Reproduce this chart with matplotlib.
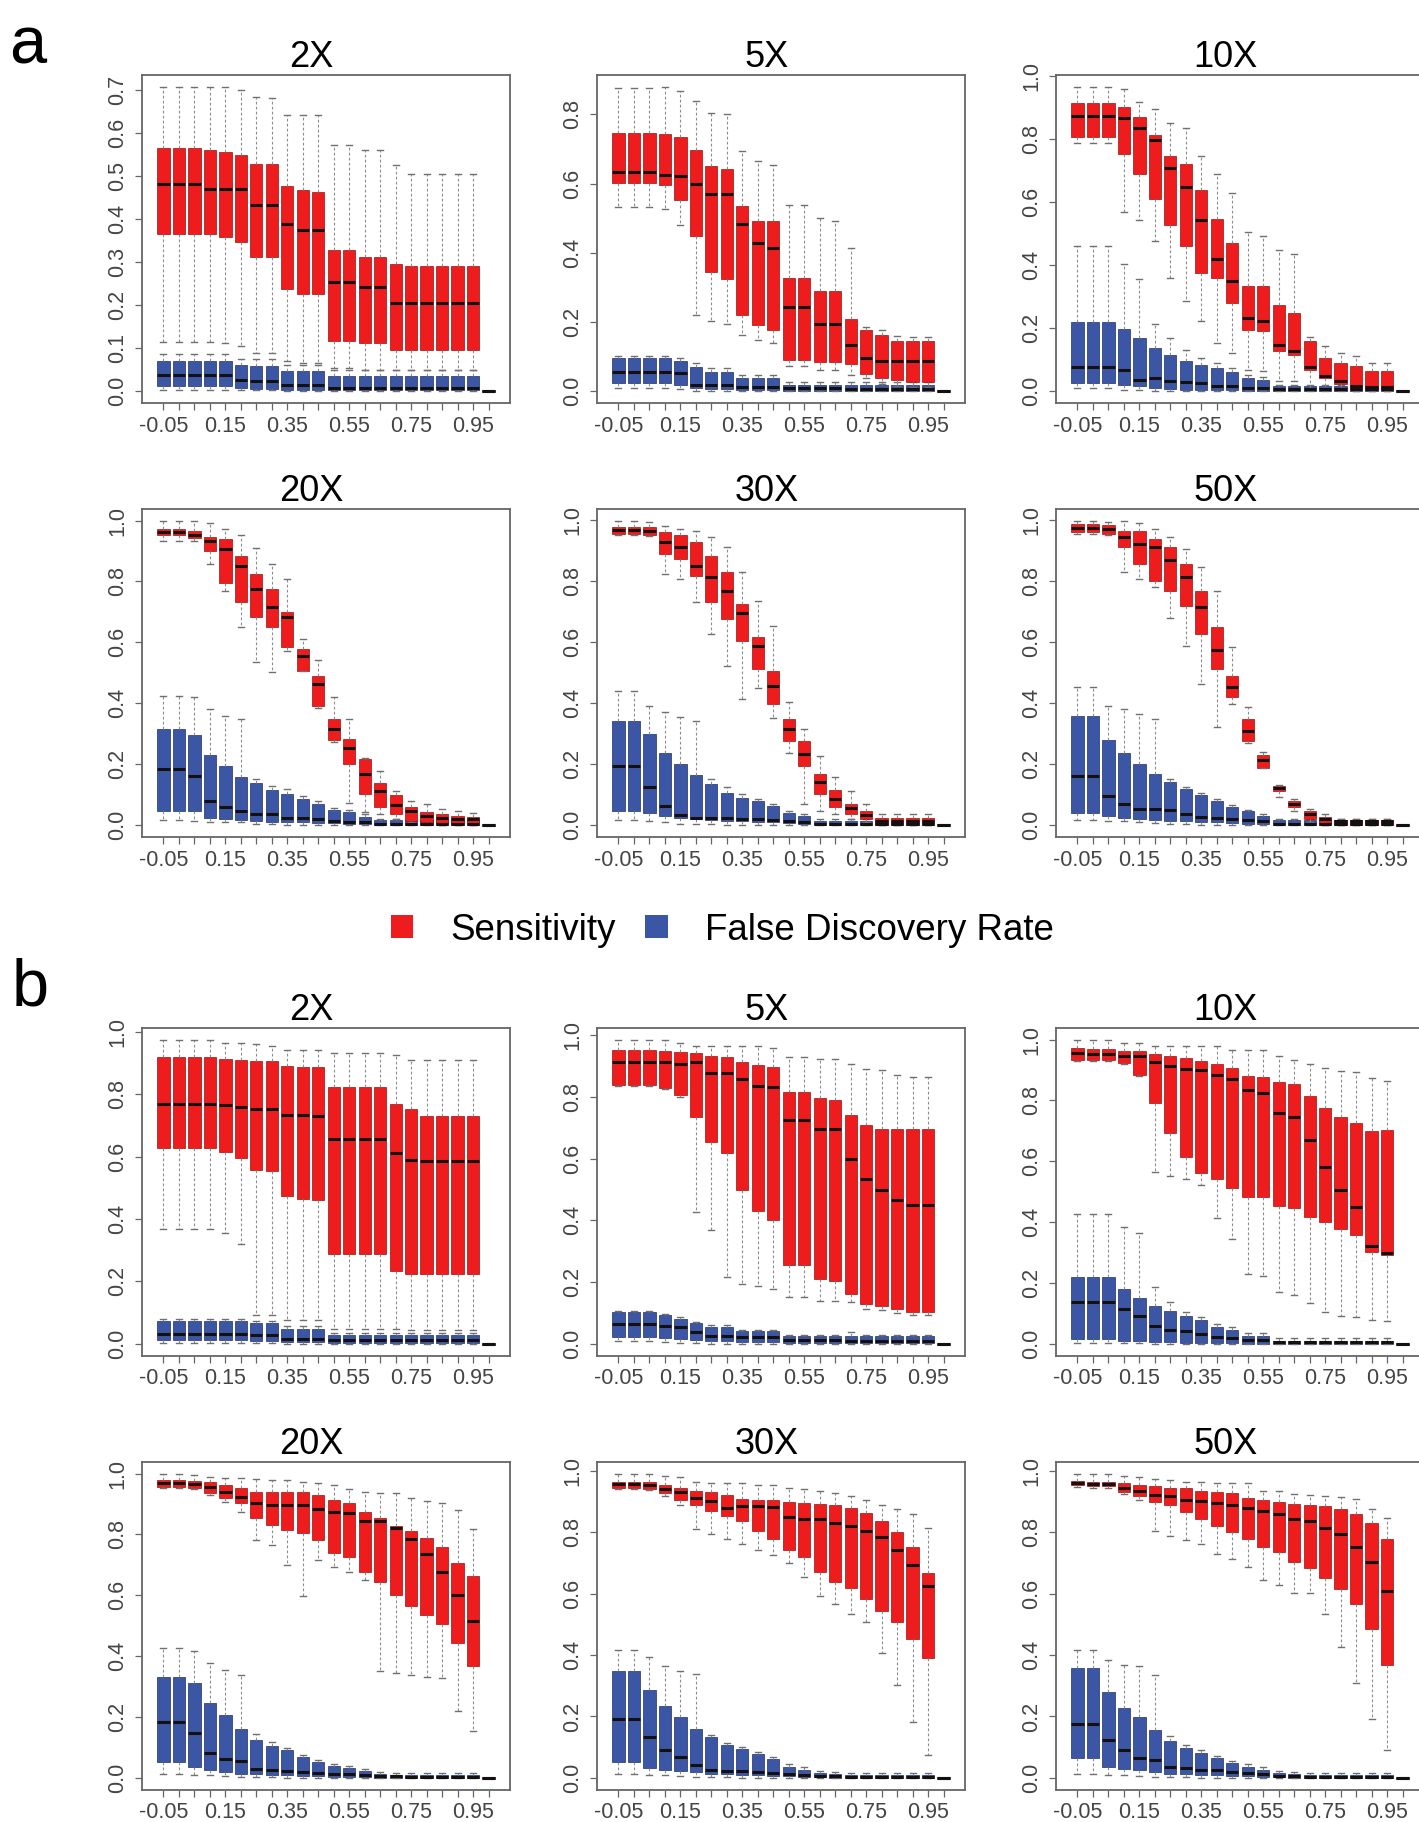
import numpy as np
import matplotlib
matplotlib.use("Agg")
import matplotlib.pyplot as plt
from matplotlib.patches import Patch
from matplotlib.ticker import MultipleLocator, FormatStrFormatter

plt.rcParams['font.family'] = ['Liberation Sans', 'DejaVu Sans']

thresholds = [-0.05, 0.00, 0.05, 0.10, 0.15, 0.20, 0.25, 0.30, 0.35, 0.40, 0.45,
              0.50, 0.55, 0.60, 0.65, 0.70, 0.75, 0.80, 0.85, 0.90, 0.95, 1.00]

# ---- panel a, 2X ----
a2x_sens_hi = [0.706, 0.706, 0.706, 0.706, 0.706, 0.700, 0.684, 0.680, 0.641, 0.641, 0.641, 0.571, 0.571, 0.560, 0.560, 0.525, 0.505, 0.505, 0.505, 0.505, 0.505, 0]
a2x_sens_q3 = [0.564, 0.564, 0.564, 0.560, 0.556, 0.548, 0.528, 0.528, 0.476, 0.468, 0.462, 0.327, 0.327, 0.310, 0.310, 0.295, 0.290, 0.290, 0.290, 0.290, 0.290, 0]
a2x_sens_med = [0.482, 0.482, 0.482, 0.470, 0.470, 0.470, 0.433, 0.433, 0.387, 0.374, 0.374, 0.253, 0.253, 0.242, 0.242, 0.205, 0.205, 0.205, 0.205, 0.205, 0.205, 0]
a2x_sens_q1 = [0.365, 0.365, 0.365, 0.365, 0.357, 0.345, 0.312, 0.312, 0.236, 0.226, 0.226, 0.115, 0.115, 0.111, 0.111, 0.096, 0.094, 0.094, 0.094, 0.094, 0.094, 0]
a2x_sens_lo = [0.114, 0.114, 0.114, 0.114, 0.111, 0.104, 0.088, 0.088, 0.069, 0.065, 0.065, 0.053, 0.053, 0.049, 0.049, 0.049, 0.049, 0.049, 0.049, 0.049, 0.049, 0]
a2x_fdr_hi = [0.085, 0.085, 0.085, 0.085, 0.085, 0.075, 0.075, 0.075, 0.060, 0.060, 0.060, 0.048, 0.048, 0.048, 0.048, 0.048, 0.048, 0.048, 0.048, 0.048, 0.048, 0]
a2x_fdr_q3 = [0.070, 0.070, 0.070, 0.070, 0.070, 0.061, 0.057, 0.057, 0.045, 0.045, 0.045, 0.034, 0.034, 0.034, 0.034, 0.034, 0.034, 0.034, 0.034, 0.034, 0.034, 0]
a2x_fdr_med = [0.037, 0.037, 0.037, 0.037, 0.037, 0.026, 0.022, 0.022, 0.014, 0.014, 0.014, 0.006, 0.006, 0.006, 0.006, 0.006, 0.006, 0.006, 0.006, 0.006, 0.006, 0]
a2x_fdr_q1 = [0.012, 0.012, 0.012, 0.012, 0.012, 0.006, 0.005, 0.005, 0.002, 0.002, 0.002, 0.001, 0.001, 0.001, 0.001, 0.001, 0.001, 0.001, 0.001, 0.001, 0.001, 0]
a2x_fdr_lo = [0.003, 0.003, 0.003, 0.003, 0.003, 0.001, 0.001, 0.001, 0, 0, 0, 0, 0, 0, 0, 0, 0, 0, 0, 0, 0, 0]

# ---- panel a, 5X ----
a5x_sens_hi = [0.877, 0.877, 0.877, 0.879, 0.868, 0.839, 0.805, 0.800, 0.694, 0.665, 0.653, 0.539, 0.539, 0.500, 0.493, 0.414, 0.186, 0.175, 0.160, 0.155, 0.155, 0]
a5x_sens_q3 = [0.747, 0.747, 0.747, 0.742, 0.734, 0.696, 0.652, 0.643, 0.534, 0.493, 0.493, 0.327, 0.327, 0.290, 0.290, 0.209, 0.177, 0.162, 0.143, 0.143, 0.143, 0]
a5x_sens_med = [0.634, 0.634, 0.634, 0.626, 0.621, 0.599, 0.570, 0.570, 0.483, 0.428, 0.414, 0.244, 0.244, 0.193, 0.193, 0.133, 0.095, 0.085, 0.085, 0.085, 0.085, 0]
a5x_sens_q1 = [0.602, 0.602, 0.602, 0.597, 0.551, 0.447, 0.344, 0.325, 0.220, 0.191, 0.177, 0.090, 0.090, 0.083, 0.083, 0.077, 0.048, 0.037, 0.032, 0.027, 0.027, 0]
a5x_sens_lo = [0.531, 0.531, 0.531, 0.525, 0.481, 0.220, 0.203, 0.193, 0.162, 0.148, 0.138, 0.071, 0.071, 0.061, 0.061, 0.046, 0.037, 0.020, 0.015, 0.010, 0.010, 0]
a5x_fdr_hi = [0.100, 0.100, 0.100, 0.100, 0.095, 0.080, 0.065, 0.065, 0.045, 0.045, 0.045, 0.025, 0.025, 0.025, 0.025, 0.025, 0.025, 0.025, 0.025, 0.025, 0.025, 0]
a5x_fdr_q3 = [0.095, 0.095, 0.095, 0.095, 0.085, 0.070, 0.056, 0.056, 0.037, 0.037, 0.037, 0.017, 0.017, 0.017, 0.017, 0.017, 0.017, 0.017, 0.017, 0.017, 0.017, 0]
a5x_fdr_med = [0.056, 0.056, 0.056, 0.056, 0.051, 0.017, 0.017, 0.017, 0.010, 0.010, 0.010, 0.008, 0.008, 0.008, 0.008, 0.006, 0.006, 0.006, 0.006, 0.006, 0.006, 0]
a5x_fdr_q1 = [0.022, 0.022, 0.022, 0.022, 0.017, 0.008, 0.006, 0.006, 0.003, 0.003, 0.003, 0.001, 0.001, 0.001, 0.001, 0, 0, 0, 0, 0, 0, 0]
a5x_fdr_lo = [0.008, 0.008, 0.008, 0.008, 0.005, 0, 0, 0, 0, 0, 0, 0, 0, 0, 0, 0, 0, 0, 0, 0, 0, 0]

# ---- panel a, 10X ----
a10x_sens_hi = [0.966, 0.966, 0.966, 0.960, 0.920, 0.896, 0.851, 0.835, 0.746, 0.691, 0.629, 0.504, 0.494, 0.448, 0.435, 0.170, 0.142, 0.120, 0.110, 0.088, 0.088, 0]
a10x_sens_q3 = [0.915, 0.915, 0.915, 0.904, 0.872, 0.813, 0.746, 0.721, 0.638, 0.547, 0.469, 0.334, 0.334, 0.273, 0.248, 0.160, 0.104, 0.088, 0.078, 0.062, 0.062, 0]
a10x_sens_med = [0.874, 0.874, 0.874, 0.867, 0.835, 0.797, 0.710, 0.648, 0.542, 0.419, 0.350, 0.232, 0.222, 0.147, 0.128, 0.075, 0.046, 0.030, 0.014, 0.011, 0.011, 0]
a10x_sens_q1 = [0.808, 0.808, 0.808, 0.753, 0.689, 0.609, 0.526, 0.462, 0.376, 0.360, 0.280, 0.195, 0.190, 0.128, 0.113, 0.067, 0.040, 0.021, 0.009, 0.003, 0.003, 0]
a10x_sens_lo = [0.787, 0.787, 0.787, 0.568, 0.542, 0.478, 0.360, 0.286, 0.222, 0.152, 0.120, 0.067, 0.062, 0.030, 0.030, 0.010, 0.010, 0.005, 0, 0, 0, 0]
a10x_fdr_hi = [0.462, 0.462, 0.462, 0.403, 0.355, 0.213, 0.168, 0.131, 0.104, 0.088, 0.072, 0.050, 0.045, 0.020, 0.020, 0.020, 0.020, 0.020, 0.020, 0.020, 0.020, 0]
a10x_fdr_q3 = [0.220, 0.220, 0.220, 0.198, 0.168, 0.136, 0.113, 0.096, 0.083, 0.072, 0.060, 0.040, 0.035, 0.014, 0.014, 0.014, 0.014, 0.014, 0.014, 0.014, 0.014, 0]
a10x_fdr_med = [0.075, 0.075, 0.075, 0.067, 0.035, 0.040, 0.030, 0.027, 0.025, 0.017, 0.017, 0.009, 0.009, 0.006, 0.006, 0.006, 0.006, 0.006, 0.006, 0.006, 0.006, 0]
a10x_fdr_q1 = [0.025, 0.025, 0.025, 0.019, 0.017, 0.009, 0.006, 0.004, 0.003, 0.002, 0.002, 0.001, 0.001, 0, 0, 0, 0, 0, 0, 0, 0, 0]
a10x_fdr_lo = [0.009, 0.009, 0.009, 0.003, 0.003, 0, 0, 0, 0, 0, 0, 0, 0, 0, 0, 0, 0, 0, 0, 0, 0, 0]

# ---- panel a, 20X ----
a20x_sens_hi = [0.998, 0.998, 0.998, 0.991, 0.973, 0.954, 0.910, 0.857, 0.808, 0.611, 0.542, 0.419, 0.348, 0.220, 0.178, 0.112, 0.079, 0.068, 0.052, 0.046, 0.040, 0]
a20x_sens_q3 = [0.973, 0.973, 0.967, 0.945, 0.940, 0.885, 0.825, 0.775, 0.698, 0.578, 0.490, 0.348, 0.282, 0.216, 0.139, 0.098, 0.059, 0.041, 0.035, 0.030, 0.026, 0]
a20x_sens_med = [0.962, 0.962, 0.954, 0.932, 0.907, 0.852, 0.775, 0.715, 0.684, 0.556, 0.463, 0.315, 0.254, 0.167, 0.112, 0.066, 0.046, 0.030, 0.024, 0.019, 0.019, 0]
a20x_sens_q1 = [0.951, 0.951, 0.943, 0.901, 0.794, 0.731, 0.682, 0.649, 0.583, 0.507, 0.391, 0.279, 0.200, 0.101, 0.059, 0.035, 0.013, 0.008, 0.005, 0.005, 0.005, 0]
a20x_sens_lo = [0.932, 0.932, 0.932, 0.857, 0.770, 0.649, 0.534, 0.501, 0.570, 0.504, 0.385, 0.271, 0.073, 0.041, 0.035, 0.019, 0.008, 0.003, 0, 0, 0, 0]
a20x_fdr_hi = [0.424, 0.424, 0.419, 0.380, 0.359, 0.348, 0.150, 0.128, 0.117, 0.095, 0.079, 0.055, 0.048, 0.035, 0.020, 0.020, 0.020, 0.020, 0.020, 0.020, 0.020, 0]
a20x_fdr_q3 = [0.315, 0.315, 0.296, 0.230, 0.194, 0.158, 0.139, 0.114, 0.103, 0.084, 0.070, 0.048, 0.041, 0.026, 0.015, 0.015, 0.015, 0.015, 0.015, 0.015, 0.015, 0]
a20x_fdr_med = [0.183, 0.183, 0.161, 0.079, 0.059, 0.044, 0.035, 0.035, 0.024, 0.024, 0.019, 0.013, 0.011, 0.008, 0.004, 0.004, 0.004, 0.004, 0.004, 0.004, 0.004, 0]
a20x_fdr_q1 = [0.046, 0.046, 0.044, 0.024, 0.019, 0.015, 0.013, 0.011, 0.009, 0.008, 0.007, 0.005, 0.004, 0.002, 0.001, 0, 0, 0, 0, 0, 0, 0]
a20x_fdr_lo = [0.015, 0.015, 0.013, 0.011, 0.011, 0.008, 0.004, 0.002, 0.001, 0, 0, 0, 0, 0, 0, 0, 0, 0, 0, 0, 0, 0]

# ---- panel a, 30X ----
a30x_sens_hi = [0.996, 0.996, 0.993, 0.981, 0.970, 0.965, 0.943, 0.910, 0.828, 0.735, 0.653, 0.402, 0.314, 0.226, 0.158, 0.112, 0.068, 0.035, 0.035, 0.035, 0.035, 0]
a30x_sens_q3 = [0.978, 0.978, 0.976, 0.960, 0.949, 0.927, 0.883, 0.828, 0.724, 0.615, 0.505, 0.348, 0.276, 0.168, 0.114, 0.070, 0.046, 0.024, 0.024, 0.024, 0.024, 0]
a30x_sens_med = [0.967, 0.967, 0.965, 0.927, 0.910, 0.850, 0.812, 0.766, 0.696, 0.588, 0.456, 0.314, 0.232, 0.139, 0.084, 0.055, 0.033, 0.011, 0.011, 0.011, 0.011, 0]
a30x_sens_q1 = [0.954, 0.954, 0.949, 0.888, 0.872, 0.817, 0.730, 0.675, 0.604, 0.511, 0.396, 0.276, 0.194, 0.100, 0.057, 0.035, 0.019, 0.004, 0.004, 0.004, 0.004, 0]
a30x_sens_lo = [0.949, 0.949, 0.946, 0.823, 0.806, 0.730, 0.626, 0.522, 0.412, 0.449, 0.352, 0.237, 0.068, 0.046, 0.035, 0.019, 0.008, 0, 0, 0, 0, 0]
a30x_fdr_hi = [0.440, 0.440, 0.391, 0.369, 0.354, 0.339, 0.150, 0.123, 0.100, 0.084, 0.068, 0.045, 0.035, 0.018, 0.018, 0.018, 0.018, 0.018, 0.018, 0.018, 0.018, 0]
a30x_fdr_q3 = [0.341, 0.341, 0.298, 0.237, 0.201, 0.164, 0.133, 0.106, 0.088, 0.079, 0.062, 0.040, 0.030, 0.013, 0.013, 0.013, 0.013, 0.013, 0.013, 0.013, 0.013, 0]
a30x_fdr_med = [0.194, 0.194, 0.123, 0.062, 0.033, 0.024, 0.024, 0.024, 0.019, 0.019, 0.015, 0.011, 0.008, 0.004, 0.004, 0.004, 0.004, 0.004, 0.004, 0.004, 0.004, 0]
a30x_fdr_q1 = [0.046, 0.046, 0.040, 0.030, 0.024, 0.019, 0.015, 0.013, 0.011, 0.010, 0.008, 0.005, 0.003, 0.001, 0.001, 0, 0, 0, 0, 0, 0, 0]
a30x_fdr_lo = [0.015, 0.015, 0.011, 0.008, 0.004, 0.003, 0.002, 0.001, 0, 0, 0, 0, 0, 0, 0, 0, 0, 0, 0, 0, 0, 0]

# ---- panel a, 50X ----
a50x_sens_hi = [0.996, 0.996, 0.993, 0.996, 0.989, 0.970, 0.945, 0.905, 0.845, 0.768, 0.582, 0.387, 0.240, 0.130, 0.084, 0.051, 0.035, 0.020, 0.020, 0.020, 0.020, 0]
a50x_sens_q3 = [0.987, 0.987, 0.985, 0.965, 0.965, 0.938, 0.910, 0.856, 0.768, 0.648, 0.489, 0.347, 0.230, 0.128, 0.079, 0.044, 0.026, 0.015, 0.015, 0.015, 0.015, 0]
a50x_sens_med = [0.974, 0.974, 0.970, 0.943, 0.921, 0.910, 0.867, 0.812, 0.713, 0.574, 0.451, 0.309, 0.212, 0.120, 0.070, 0.035, 0.019, 0.011, 0.011, 0.011, 0.011, 0]
a50x_sens_q1 = [0.960, 0.960, 0.954, 0.910, 0.856, 0.801, 0.768, 0.719, 0.626, 0.511, 0.418, 0.276, 0.188, 0.112, 0.059, 0.019, 0.005, 0.004, 0.004, 0.004, 0.004, 0]
a50x_sens_lo = [0.954, 0.954, 0.950, 0.828, 0.806, 0.779, 0.680, 0.588, 0.462, 0.322, 0.396, 0.270, 0.185, 0.090, 0.046, 0.008, 0, 0, 0, 0, 0, 0]
a50x_fdr_hi = [0.452, 0.452, 0.391, 0.380, 0.364, 0.348, 0.150, 0.123, 0.106, 0.085, 0.065, 0.050, 0.035, 0.018, 0.018, 0.018, 0.018, 0.018, 0.018, 0.018, 0.018, 0]
a50x_fdr_q3 = [0.358, 0.358, 0.278, 0.237, 0.201, 0.167, 0.139, 0.117, 0.099, 0.079, 0.059, 0.046, 0.030, 0.015, 0.015, 0.015, 0.015, 0.015, 0.015, 0.015, 0.015, 0]
a50x_fdr_med = [0.161, 0.161, 0.095, 0.070, 0.051, 0.051, 0.048, 0.035, 0.026, 0.024, 0.019, 0.015, 0.011, 0.004, 0.004, 0.004, 0.004, 0.004, 0.004, 0.004, 0.004, 0]
a50x_fdr_q1 = [0.040, 0.040, 0.030, 0.022, 0.019, 0.015, 0.013, 0.011, 0.009, 0.008, 0.006, 0.004, 0.003, 0.001, 0.001, 0, 0, 0, 0, 0, 0, 0]
a50x_fdr_lo = [0.015, 0.015, 0.011, 0.011, 0.008, 0.005, 0.003, 0.002, 0.001, 0, 0, 0, 0, 0, 0, 0, 0, 0, 0, 0, 0, 0]

# ---- panel b, 2X ----
b2x_sens_hi = [0.973, 0.973, 0.973, 0.973, 0.965, 0.965, 0.960, 0.954, 0.943, 0.943, 0.943, 0.933, 0.933, 0.933, 0.933, 0.925, 0.911, 0.909, 0.909, 0.909, 0.909, 0]
b2x_sens_q3 = [0.918, 0.918, 0.918, 0.918, 0.914, 0.911, 0.907, 0.907, 0.890, 0.888, 0.888, 0.824, 0.824, 0.824, 0.824, 0.770, 0.751, 0.729, 0.729, 0.729, 0.729, 0]
b2x_sens_med = [0.770, 0.770, 0.770, 0.770, 0.765, 0.759, 0.754, 0.754, 0.733, 0.733, 0.729, 0.655, 0.655, 0.655, 0.655, 0.612, 0.590, 0.586, 0.586, 0.586, 0.586, 0]
b2x_sens_q1 = [0.626, 0.626, 0.626, 0.626, 0.615, 0.594, 0.556, 0.554, 0.473, 0.465, 0.460, 0.289, 0.289, 0.289, 0.289, 0.233, 0.225, 0.225, 0.225, 0.225, 0.225, 0]
b2x_sens_lo = [0.369, 0.369, 0.369, 0.369, 0.355, 0.321, 0.091, 0.091, 0.075, 0.075, 0.075, 0.048, 0.048, 0.048, 0.048, 0.048, 0.045, 0.045, 0.045, 0.045, 0.045, 0]
b2x_fdr_hi = [0.080, 0.080, 0.080, 0.080, 0.080, 0.080, 0.072, 0.072, 0.058, 0.058, 0.058, 0.035, 0.035, 0.035, 0.035, 0.035, 0.035, 0.035, 0.035, 0.035, 0.035, 0]
b2x_fdr_q3 = [0.073, 0.073, 0.073, 0.073, 0.073, 0.073, 0.066, 0.066, 0.048, 0.048, 0.048, 0.027, 0.027, 0.027, 0.027, 0.027, 0.027, 0.027, 0.027, 0.027, 0.027, 0]
b2x_fdr_med = [0.032, 0.032, 0.032, 0.032, 0.032, 0.032, 0.027, 0.027, 0.016, 0.016, 0.016, 0.011, 0.011, 0.011, 0.011, 0.011, 0.011, 0.011, 0.011, 0.011, 0.011, 0]
b2x_fdr_q1 = [0.011, 0.011, 0.011, 0.011, 0.011, 0.011, 0.009, 0.009, 0.005, 0.005, 0.005, 0.002, 0.002, 0.002, 0.002, 0.002, 0.002, 0.002, 0.002, 0.002, 0.002, 0]
b2x_fdr_lo = [0.003, 0.003, 0.003, 0.003, 0.003, 0.003, 0.002, 0.002, 0.001, 0.001, 0.001, 0, 0, 0, 0, 0, 0, 0, 0, 0, 0, 0]

# ---- panel b, 5X ----
b5x_sens_hi = [0.984, 0.984, 0.984, 0.984, 0.975, 0.964, 0.964, 0.964, 0.964, 0.964, 0.957, 0.930, 0.930, 0.924, 0.924, 0.908, 0.892, 0.886, 0.870, 0.865, 0.865, 0]
b5x_sens_q3 = [0.951, 0.951, 0.951, 0.949, 0.946, 0.941, 0.932, 0.928, 0.914, 0.903, 0.897, 0.816, 0.816, 0.795, 0.791, 0.741, 0.708, 0.697, 0.697, 0.697, 0.697, 0]
b5x_sens_med = [0.914, 0.914, 0.914, 0.914, 0.908, 0.914, 0.878, 0.878, 0.859, 0.835, 0.832, 0.726, 0.726, 0.697, 0.697, 0.600, 0.535, 0.497, 0.465, 0.449, 0.449, 0]
b5x_sens_q1 = [0.838, 0.838, 0.838, 0.830, 0.805, 0.735, 0.654, 0.618, 0.497, 0.430, 0.400, 0.254, 0.254, 0.211, 0.205, 0.162, 0.130, 0.124, 0.114, 0.103, 0.103, 0]
b5x_sens_lo = [0.835, 0.835, 0.835, 0.827, 0.800, 0.427, 0.368, 0.218, 0.195, 0.186, 0.178, 0.151, 0.151, 0.140, 0.140, 0.135, 0.114, 0.110, 0.100, 0.092, 0.092, 0]
b5x_fdr_hi = [0.108, 0.108, 0.108, 0.097, 0.086, 0.072, 0.060, 0.060, 0.046, 0.046, 0.046, 0.030, 0.030, 0.030, 0.030, 0.040, 0.030, 0.030, 0.030, 0.030, 0.030, 0]
b5x_fdr_q3 = [0.103, 0.103, 0.103, 0.092, 0.081, 0.067, 0.056, 0.056, 0.041, 0.041, 0.041, 0.024, 0.024, 0.024, 0.024, 0.024, 0.024, 0.024, 0.024, 0.024, 0.024, 0]
b5x_fdr_med = [0.065, 0.065, 0.065, 0.059, 0.054, 0.038, 0.027, 0.027, 0.022, 0.022, 0.022, 0.011, 0.011, 0.011, 0.011, 0.008, 0.008, 0.008, 0.008, 0.008, 0.008, 0]
b5x_fdr_q1 = [0.022, 0.022, 0.022, 0.020, 0.016, 0.011, 0.008, 0.008, 0.005, 0.005, 0.005, 0.002, 0.002, 0.002, 0.002, 0.002, 0.002, 0.002, 0.002, 0.002, 0.002, 0]
b5x_fdr_lo = [0.008, 0.008, 0.008, 0.006, 0.004, 0.002, 0.001, 0.001, 0, 0, 0, 0, 0, 0, 0, 0, 0, 0, 0, 0, 0, 0]

# ---- panel b, 10X ----
b10x_sens_hi = [0.998, 0.998, 0.998, 0.989, 0.989, 0.980, 0.980, 0.980, 0.980, 0.978, 0.967, 0.965, 0.965, 0.945, 0.934, 0.918, 0.907, 0.896, 0.892, 0.874, 0.863, 0]
b10x_sens_q3 = [0.973, 0.969, 0.969, 0.962, 0.962, 0.951, 0.945, 0.940, 0.929, 0.918, 0.907, 0.881, 0.877, 0.859, 0.855, 0.813, 0.775, 0.747, 0.725, 0.701, 0.703, 0]
b10x_sens_med = [0.956, 0.951, 0.951, 0.945, 0.945, 0.925, 0.914, 0.903, 0.901, 0.885, 0.870, 0.833, 0.824, 0.760, 0.747, 0.670, 0.582, 0.505, 0.451, 0.321, 0.297, 0]
b10x_sens_q1 = [0.934, 0.934, 0.934, 0.923, 0.885, 0.791, 0.692, 0.615, 0.560, 0.541, 0.511, 0.484, 0.481, 0.453, 0.445, 0.418, 0.401, 0.379, 0.357, 0.302, 0.291, 0]
b10x_sens_lo = [0.930, 0.928, 0.928, 0.918, 0.880, 0.566, 0.552, 0.541, 0.522, 0.415, 0.346, 0.231, 0.222, 0.170, 0.159, 0.134, 0.104, 0.090, 0.088, 0.077, 0.074, 0]
b10x_fdr_hi = [0.426, 0.426, 0.426, 0.385, 0.365, 0.187, 0.137, 0.104, 0.088, 0.065, 0.055, 0.035, 0.035, 0.018, 0.018, 0.018, 0.018, 0.018, 0.018, 0.018, 0.018, 0]
b10x_fdr_q3 = [0.220, 0.220, 0.220, 0.181, 0.152, 0.126, 0.108, 0.093, 0.077, 0.057, 0.046, 0.027, 0.027, 0.011, 0.011, 0.011, 0.011, 0.011, 0.011, 0.011, 0.011, 0]
b10x_fdr_med = [0.137, 0.137, 0.137, 0.115, 0.093, 0.060, 0.044, 0.042, 0.033, 0.024, 0.020, 0.013, 0.013, 0.005, 0.005, 0.005, 0.005, 0.005, 0.005, 0.005, 0.005, 0]
b10x_fdr_q1 = [0.016, 0.016, 0.016, 0.011, 0.011, 0.005, 0.005, 0.004, 0.003, 0.002, 0.002, 0.001, 0.001, 0, 0, 0, 0, 0, 0, 0, 0, 0]
b10x_fdr_lo = [0.004, 0.004, 0.004, 0.002, 0.002, 0.001, 0.001, 0, 0, 0, 0, 0, 0, 0, 0, 0, 0, 0, 0, 0, 0, 0]

# ---- panel b, 20X ----
b20x_sens_hi = [0.998, 0.998, 0.995, 0.989, 0.984, 0.984, 0.981, 0.978, 0.978, 0.973, 0.968, 0.962, 0.948, 0.940, 0.937, 0.937, 0.919, 0.911, 0.903, 0.879, 0.818, 0]
b20x_sens_q3 = [0.978, 0.978, 0.976, 0.973, 0.962, 0.951, 0.940, 0.940, 0.940, 0.940, 0.929, 0.913, 0.903, 0.875, 0.854, 0.827, 0.810, 0.789, 0.759, 0.707, 0.662, 0]
b20x_sens_med = [0.968, 0.968, 0.966, 0.957, 0.940, 0.924, 0.903, 0.897, 0.897, 0.897, 0.883, 0.875, 0.870, 0.843, 0.843, 0.821, 0.786, 0.735, 0.675, 0.600, 0.515, 0]
b20x_sens_q1 = [0.955, 0.955, 0.951, 0.935, 0.919, 0.903, 0.854, 0.832, 0.816, 0.805, 0.783, 0.740, 0.727, 0.675, 0.643, 0.602, 0.565, 0.534, 0.504, 0.442, 0.366, 0]
b20x_sens_lo = [0.951, 0.951, 0.948, 0.930, 0.905, 0.875, 0.783, 0.764, 0.699, 0.597, 0.716, 0.692, 0.678, 0.651, 0.350, 0.345, 0.337, 0.330, 0.328, 0.220, 0.153, 0]
b20x_fdr_hi = [0.426, 0.426, 0.417, 0.377, 0.355, 0.339, 0.144, 0.117, 0.098, 0.075, 0.058, 0.045, 0.040, 0.030, 0.020, 0.015, 0.015, 0.015, 0.015, 0.015, 0.015, 0]
b20x_fdr_q3 = [0.330, 0.330, 0.312, 0.247, 0.207, 0.160, 0.125, 0.106, 0.090, 0.068, 0.052, 0.038, 0.034, 0.022, 0.014, 0.008, 0.008, 0.008, 0.008, 0.008, 0.008, 0]
b20x_fdr_med = [0.185, 0.185, 0.146, 0.081, 0.063, 0.057, 0.030, 0.025, 0.023, 0.020, 0.016, 0.012, 0.012, 0.008, 0.005, 0.005, 0.004, 0.004, 0.004, 0.004, 0.004, 0]
b20x_fdr_q1 = [0.052, 0.052, 0.036, 0.027, 0.020, 0.014, 0.012, 0.010, 0.008, 0.007, 0.006, 0.004, 0.004, 0.002, 0.001, 0.001, 0, 0, 0, 0, 0, 0]
b20x_fdr_lo = [0.014, 0.014, 0.010, 0.008, 0.006, 0.004, 0.003, 0.002, 0.001, 0, 0, 0, 0, 0, 0, 0, 0, 0, 0, 0, 0, 0]

# ---- panel b, 30X ----
b30x_sens_hi = [0.990, 0.990, 0.990, 0.985, 0.980, 0.966, 0.961, 0.961, 0.961, 0.955, 0.955, 0.945, 0.943, 0.934, 0.928, 0.918, 0.907, 0.891, 0.875, 0.859, 0.816, 0]
b30x_sens_q3 = [0.966, 0.966, 0.964, 0.955, 0.945, 0.936, 0.932, 0.923, 0.910, 0.907, 0.907, 0.900, 0.896, 0.893, 0.889, 0.880, 0.864, 0.838, 0.800, 0.752, 0.667, 0]
b30x_sens_med = [0.957, 0.957, 0.955, 0.942, 0.932, 0.913, 0.902, 0.880, 0.886, 0.886, 0.883, 0.851, 0.843, 0.843, 0.832, 0.822, 0.806, 0.784, 0.744, 0.694, 0.624, 0]
b30x_sens_q1 = [0.945, 0.945, 0.942, 0.929, 0.907, 0.891, 0.870, 0.854, 0.836, 0.806, 0.779, 0.742, 0.720, 0.672, 0.640, 0.619, 0.582, 0.544, 0.507, 0.454, 0.390, 0]
b30x_sens_lo = [0.940, 0.940, 0.938, 0.920, 0.890, 0.811, 0.795, 0.779, 0.763, 0.742, 0.726, 0.699, 0.656, 0.594, 0.566, 0.534, 0.507, 0.406, 0.304, 0.181, 0.075, 0]
b30x_fdr_hi = [0.416, 0.416, 0.395, 0.363, 0.347, 0.338, 0.140, 0.115, 0.100, 0.085, 0.068, 0.045, 0.035, 0.022, 0.018, 0.015, 0.015, 0.015, 0.015, 0.015, 0.015, 0]
b30x_fdr_q3 = [0.347, 0.347, 0.288, 0.235, 0.197, 0.160, 0.133, 0.107, 0.093, 0.078, 0.061, 0.037, 0.027, 0.016, 0.012, 0.010, 0.010, 0.010, 0.010, 0.010, 0.010, 0]
b30x_fdr_med = [0.192, 0.192, 0.133, 0.091, 0.069, 0.043, 0.027, 0.021, 0.021, 0.018, 0.016, 0.012, 0.010, 0.005, 0.005, 0.004, 0.004, 0.004, 0.004, 0.004, 0.004, 0]
b30x_fdr_q1 = [0.053, 0.053, 0.032, 0.027, 0.021, 0.018, 0.014, 0.012, 0.010, 0.008, 0.007, 0.005, 0.004, 0.002, 0.001, 0, 0, 0, 0, 0, 0, 0]
b30x_fdr_lo = [0.014, 0.014, 0.010, 0.008, 0.006, 0.004, 0.003, 0.002, 0.001, 0, 0, 0, 0, 0, 0, 0, 0, 0, 0, 0, 0, 0]

# ---- panel b, 50X ----
b50x_sens_hi = [0.990, 0.990, 0.990, 0.985, 0.980, 0.975, 0.970, 0.965, 0.965, 0.960, 0.960, 0.960, 0.935, 0.935, 0.926, 0.923, 0.920, 0.915, 0.910, 0.875, 0.848, 0]
b50x_sens_q3 = [0.968, 0.966, 0.966, 0.960, 0.955, 0.950, 0.945, 0.945, 0.936, 0.932, 0.929, 0.913, 0.907, 0.900, 0.893, 0.891, 0.886, 0.875, 0.859, 0.832, 0.779, 0]
b50x_sens_med = [0.960, 0.958, 0.958, 0.945, 0.936, 0.923, 0.918, 0.907, 0.902, 0.896, 0.891, 0.880, 0.870, 0.859, 0.843, 0.838, 0.816, 0.795, 0.752, 0.704, 0.608, 0]
b50x_sens_q1 = [0.953, 0.950, 0.950, 0.932, 0.918, 0.900, 0.891, 0.868, 0.843, 0.822, 0.800, 0.779, 0.752, 0.736, 0.704, 0.683, 0.651, 0.614, 0.566, 0.486, 0.368, 0]
b50x_sens_lo = [0.948, 0.946, 0.946, 0.925, 0.905, 0.806, 0.790, 0.774, 0.763, 0.731, 0.715, 0.688, 0.646, 0.630, 0.603, 0.603, 0.534, 0.427, 0.310, 0.192, 0.091, 0]
b50x_fdr_hi = [0.416, 0.416, 0.384, 0.368, 0.363, 0.336, 0.135, 0.108, 0.090, 0.072, 0.055, 0.045, 0.035, 0.022, 0.018, 0.015, 0.015, 0.015, 0.015, 0.015, 0.015, 0]
b50x_fdr_q3 = [0.358, 0.358, 0.281, 0.229, 0.197, 0.155, 0.121, 0.096, 0.080, 0.064, 0.048, 0.037, 0.027, 0.016, 0.012, 0.010, 0.010, 0.010, 0.010, 0.010, 0.010, 0]
b50x_fdr_med = [0.176, 0.176, 0.123, 0.091, 0.064, 0.059, 0.037, 0.032, 0.027, 0.024, 0.018, 0.016, 0.012, 0.006, 0.005, 0.004, 0.004, 0.004, 0.004, 0.004, 0.004, 0]
b50x_fdr_q1 = [0.064, 0.064, 0.037, 0.029, 0.025, 0.018, 0.014, 0.012, 0.010, 0.008, 0.007, 0.005, 0.004, 0.002, 0.001, 0, 0, 0, 0, 0, 0, 0]
b50x_fdr_lo = [0.014, 0.014, 0.010, 0.008, 0.006, 0.004, 0.003, 0.002, 0.001, 0, 0, 0, 0, 0, 0, 0, 0, 0, 0, 0, 0, 0]

RED, RED_EDGE = '#ee1c1c', '#9a1010'
BLUE, BLUE_EDGE = '#3c56a6', '#1f2f66'

# (title, column, row-top in px, sensitivity stats, fdr stats, y tick step)
panels = [
    ("2X", 0, 75, (a2x_sens_lo, a2x_sens_q1, a2x_sens_med, a2x_sens_q3, a2x_sens_hi),
     (a2x_fdr_lo, a2x_fdr_q1, a2x_fdr_med, a2x_fdr_q3, a2x_fdr_hi), 0.1),
    ("5X", 1, 75, (a5x_sens_lo, a5x_sens_q1, a5x_sens_med, a5x_sens_q3, a5x_sens_hi),
     (a5x_fdr_lo, a5x_fdr_q1, a5x_fdr_med, a5x_fdr_q3, a5x_fdr_hi), 0.2),
    ("10X", 2, 75, (a10x_sens_lo, a10x_sens_q1, a10x_sens_med, a10x_sens_q3, a10x_sens_hi),
     (a10x_fdr_lo, a10x_fdr_q1, a10x_fdr_med, a10x_fdr_q3, a10x_fdr_hi), 0.2),
    ("20X", 0, 509, (a20x_sens_lo, a20x_sens_q1, a20x_sens_med, a20x_sens_q3, a20x_sens_hi),
     (a20x_fdr_lo, a20x_fdr_q1, a20x_fdr_med, a20x_fdr_q3, a20x_fdr_hi), 0.2),
    ("30X", 1, 509, (a30x_sens_lo, a30x_sens_q1, a30x_sens_med, a30x_sens_q3, a30x_sens_hi),
     (a30x_fdr_lo, a30x_fdr_q1, a30x_fdr_med, a30x_fdr_q3, a30x_fdr_hi), 0.2),
    ("50X", 2, 509, (a50x_sens_lo, a50x_sens_q1, a50x_sens_med, a50x_sens_q3, a50x_sens_hi),
     (a50x_fdr_lo, a50x_fdr_q1, a50x_fdr_med, a50x_fdr_q3, a50x_fdr_hi), 0.2),
    ("2X", 0, 1028, (b2x_sens_lo, b2x_sens_q1, b2x_sens_med, b2x_sens_q3, b2x_sens_hi),
     (b2x_fdr_lo, b2x_fdr_q1, b2x_fdr_med, b2x_fdr_q3, b2x_fdr_hi), 0.2),
    ("5X", 1, 1028, (b5x_sens_lo, b5x_sens_q1, b5x_sens_med, b5x_sens_q3, b5x_sens_hi),
     (b5x_fdr_lo, b5x_fdr_q1, b5x_fdr_med, b5x_fdr_q3, b5x_fdr_hi), 0.2),
    ("10X", 2, 1028, (b10x_sens_lo, b10x_sens_q1, b10x_sens_med, b10x_sens_q3, b10x_sens_hi),
     (b10x_fdr_lo, b10x_fdr_q1, b10x_fdr_med, b10x_fdr_q3, b10x_fdr_hi), 0.2),
    ("20X", 0, 1462, (b20x_sens_lo, b20x_sens_q1, b20x_sens_med, b20x_sens_q3, b20x_sens_hi),
     (b20x_fdr_lo, b20x_fdr_q1, b20x_fdr_med, b20x_fdr_q3, b20x_fdr_hi), 0.2),
    ("30X", 1, 1462, (b30x_sens_lo, b30x_sens_q1, b30x_sens_med, b30x_sens_q3, b30x_sens_hi),
     (b30x_fdr_lo, b30x_fdr_q1, b30x_fdr_med, b30x_fdr_q3, b30x_fdr_hi), 0.2),
    ("50X", 2, 1462, (b50x_sens_lo, b50x_sens_q1, b50x_sens_med, b50x_sens_q3, b50x_sens_hi),
     (b50x_fdr_lo, b50x_fdr_q1, b50x_fdr_med, b50x_fdr_q3, b50x_fdr_hi), 0.2),
]


def box_stats(lo, q1, med, q3, hi):
    for v in (lo, q1, med, q3, hi):
        assert len(v) == len(thresholds), len(v)
    return [dict(whislo=a, q1=b, med=c, q3=d, whishi=e)
            for a, b, c, d, e in zip(lo, q1, med, q3, hi)]


W, H = 1419, 1822
fig = plt.figure(figsize=(W / 100, H / 100), dpi=100)
col_left = [142, 597, 1056]
ax_w, ax_h = 368, 328
step = thresholds[1] - thresholds[0]

for title, col, top, sens, fdr, ystep in panels:
    ax = fig.add_axes([col_left[col] / W, 1 - (top + ax_h) / H, ax_w / W, ax_h / H])
    for st, fc, ec in ((fdr, BLUE, BLUE_EDGE), (sens, RED, RED_EDGE)):
        ax.bxp(box_stats(*st), positions=thresholds, widths=step * 0.8,
               capwidths=step * 0.4, patch_artist=True, showfliers=False,
               manage_ticks=False,
               boxprops=dict(facecolor=fc, edgecolor=ec, linewidth=0.5),
               medianprops=dict(color='#151010', linewidth=2.2, solid_capstyle='butt'),
               whiskerprops=dict(color='#8c8c8c', linewidth=0.8, linestyle=(0, (2.5, 2))),
               capprops=dict(color='#707070', linewidth=1.0))
    vals = np.concatenate([np.asarray(v, float) for v in sens + fdr])
    lo, hi = vals.min(), vals.max()
    pad = 0.04 * (hi - lo)
    ax.set_ylim(lo - pad, hi + pad)
    xpad = 0.04 * (len(thresholds) * step) + step / 2
    ax.set_xlim(thresholds[0] - xpad, thresholds[-1] + xpad)

    ax.set_xticks(thresholds)
    ax.set_xticklabels([f"{x:.2f}" if i % 4 == 0 else "" for i, x in enumerate(thresholds)])
    ax.yaxis.set_major_locator(MultipleLocator(ystep))
    ax.yaxis.set_major_formatter(FormatStrFormatter('%.1f'))
    ax.tick_params(axis='both', direction='out', length=5, width=0.9,
                   colors='#666666', labelcolor='#444444', labelsize=15.5)
    ax.tick_params(axis='x', pad=4)
    ax.tick_params(axis='y', pad=5)
    for t in ax.get_yticklabels():
        t.set_rotation(90)
        t.set_va('center')
    for sp in ax.spines.values():
        sp.set_color('#666666')
        sp.set_linewidth(1.3)
    ax.set_title(title, fontsize=26, pad=5, x=0.46)

fig.text(28 / W, 1 - 63 / H, 'a', fontsize=48, ha='center', va='baseline')
fig.text(30 / W, 1 - 1005 / H, 'b', fontsize=48, ha='center', va='baseline')

handles = [Patch(facecolor=RED, edgecolor='none'), Patch(facecolor=BLUE, edgecolor='none')]
fig.legend(handles, ['Sensitivity', 'False Discovery Rate'], loc='center',
           bbox_to_anchor=(722 / W, 1 - 930 / H), ncol=2, frameon=False,
           fontsize=26.5, handlelength=0.62, handleheight=0.62,
           handletextpad=1.0, columnspacing=0.8)

fig.savefig('out.png', dpi=100)
